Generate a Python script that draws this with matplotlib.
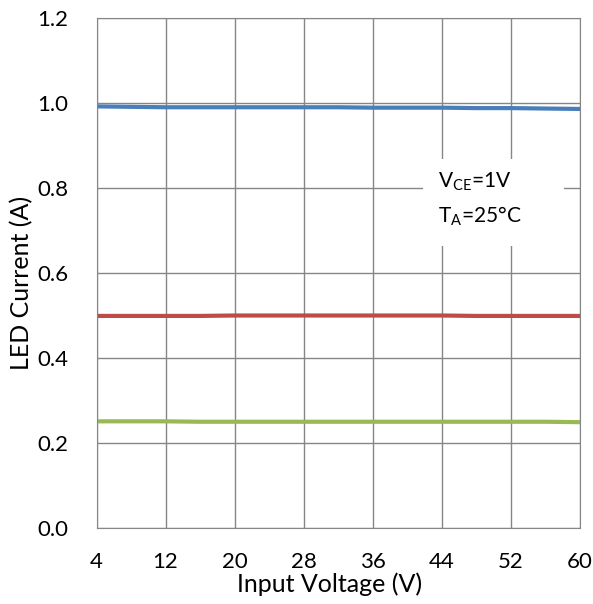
import numpy as np
import matplotlib.pyplot as plt
from matplotlib.patches import Rectangle

plt.rcParams['font.family'] = ['Lato', 'DejaVu Sans']
plt.rcParams['mathtext.fontset'] = 'custom'
plt.rcParams['mathtext.rm'] = 'Lato'

vin = [4, 8, 12, 16, 20, 24, 28, 32, 36, 40, 44, 48, 52, 56, 60]
i_1a = [0.992, 0.991, 0.990, 0.990, 0.990, 0.990, 0.990, 0.990, 0.989, 0.989, 0.989, 0.988, 0.988, 0.987, 0.986]
i_05a = [0.499, 0.499, 0.499, 0.499, 0.500, 0.500, 0.500, 0.500, 0.500, 0.500, 0.500, 0.499, 0.499, 0.499, 0.499]
i_025a = [0.251, 0.251, 0.251, 0.250, 0.250, 0.250, 0.250, 0.250, 0.250, 0.250, 0.250, 0.250, 0.250, 0.250, 0.249]

fig = plt.figure(figsize=(5.93, 6.04), dpi=100)
ax = fig.add_axes([96.5/593, 1 - 528/604, (580 - 96.5)/593, (528 - 18)/604])

ax.plot(vin, i_1a, color='#4a7ebb', lw=3)
ax.plot(vin, i_05a, color='#be4b48', lw=3)
ax.plot(vin, i_025a, color='#98b954', lw=3)

ax.set_xlim(4, 60)
ax.set_ylim(0, 1.2)
ax.set_xticks(np.arange(4, 61, 8))
ax.set_yticks(np.arange(0, 1.21, 0.2))
ax.set_yticklabels([f'{v:.1f}' for v in np.arange(0, 1.21, 0.2)])
ax.grid(True, color='#868686', lw=1)
ax.set_axisbelow(True)
for s in ax.spines.values():
    s.set_color('#868686')
ax.tick_params(length=0, labelsize=16)
ax.tick_params(axis='x', pad=17.5)
ax.tick_params(axis='y', pad=20.5)

fig.text(329.5/593, 1 - 584/604, 'Input Voltage (V)', fontsize=18, ha='center', va='center')
fig.text(22/593, 1 - 283/604, 'LED Current (A)', fontsize=18, ha='center', va='center', rotation=90)

# white box behind the conditions note
ax.add_patch(Rectangle((0.675, 0.553), 0.292, 0.171, transform=ax.transAxes,
                       facecolor='white', edgecolor='none', zorder=1.5))
ax.text(0.706, 0.667, 'V$_{\\mathregular{CE}}$=1V', transform=ax.transAxes,
        fontsize=15, va='baseline', ha='left', zorder=3)
ax.text(0.706, 0.600, 'T$_{\\mathregular{A}}$=25°C', transform=ax.transAxes,
        fontsize=15, va='baseline', ha='left', zorder=3)

fig.savefig('out.png', dpi=100)
